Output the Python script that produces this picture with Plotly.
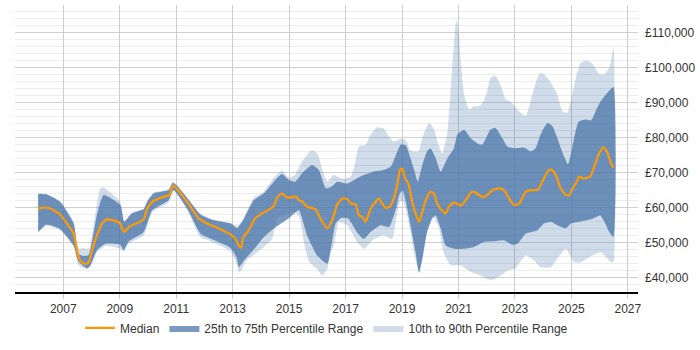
import plotly.graph_objects as go

# ---- data (years as decimals, salary in GBP) ----
median_x = [2006.11, 2006.36, 2006.54, 2006.89, 2007.13, 2007.37, 2007.49, 2007.60, 2007.78, 2007.90,
            2008.02, 2008.19, 2008.37, 2008.55, 2008.73, 2009.00, 2009.08, 2009.17, 2009.32, 2009.85,
            2009.97, 2010.18, 2010.56, 2010.77, 2010.85, 2010.91, 2011.03, 2011.39, 2011.80, 2012.10,
            2012.51, 2012.92, 2013.10, 2013.22, 2013.30, 2013.37, 2013.57, 2013.81, 2014.10, 2014.44,
            2014.58, 2014.72, 2014.81, 2014.93, 2015.26, 2015.34, 2015.46, 2015.64, 2015.94, 2016.11,
            2016.35, 2016.53, 2016.71, 2016.88, 2017.06, 2017.20, 2017.35, 2017.47, 2017.59, 2017.71,
            2017.89, 2018.06, 2018.18, 2018.30, 2018.42, 2018.57, 2018.71, 2018.83, 2018.93, 2019.01,
            2019.09, 2019.24, 2019.36, 2019.48, 2019.60, 2019.72, 2019.80, 2019.89, 2020.01, 2020.13,
            2020.25, 2020.43, 2020.55, 2020.66, 2020.84, 2020.96, 2021.08, 2021.26, 2021.43, 2021.55,
            2021.73, 2021.90, 2022.02, 2022.20, 2022.43, 2022.61, 2022.79, 2022.97, 2023.15, 2023.38,
            2023.56, 2023.80, 2024.03, 2024.21, 2024.33, 2024.45, 2024.62, 2024.80, 2024.92, 2025.04,
            2025.16, 2025.27, 2025.39, 2025.51, 2025.66, 2025.81, 2025.99, 2026.14, 2026.28, 2026.40,
            2026.49]
median_y = [59700, 60000, 59700, 58000, 55400, 52500, 47700, 44800, 43800, 44300,
            47700, 52000, 55400, 56600, 56400, 55600, 54000, 53000, 54400, 56600,
            59700, 61800, 63100, 63600, 65700, 66300, 65300, 61600, 56800, 55400,
            54000, 52300, 51000, 49100, 48400, 51300, 53500, 57000, 58600, 60200,
            62800, 64000, 63700, 62800, 63100, 62100, 61800, 60200, 59500, 56800,
            54000, 56400, 61000, 62600, 62400, 61100, 61000, 57800, 57300, 55900,
            59700, 61600, 62600, 61100, 59900, 60200, 62600, 66400, 70800, 71100,
            68800, 66400, 61600, 58300, 55900, 58700, 61000, 63000, 64500, 64000,
            61100, 59000, 58300, 60200, 61400, 61100, 60500, 62100, 64200, 64500,
            63600, 62900, 63600, 65000, 65500, 65000, 62600, 60700, 61100, 64500,
            65000, 65000, 68400, 70800, 70600, 69300, 65500, 63600, 63400, 65500,
            66900, 68800, 68400, 68400, 68800, 71700, 75600, 77200, 75600, 72700,
            71400]

p75_x = [2006.11, 2006.40, 2006.89, 2007.37, 2007.54, 2007.72, 2007.90, 2008.19, 2008.43, 2009.02,
         2009.16, 2009.43, 2009.85, 2009.97, 2010.20, 2010.73, 2010.88, 2011.03, 2011.40, 2011.86,
         2012.30, 2012.92, 2013.16, 2013.34, 2013.75, 2014.10, 2014.46, 2014.75, 2014.99, 2015.22,
         2015.46, 2015.81, 2016.05, 2016.30, 2016.47, 2016.71, 2017.06, 2017.41, 2017.65, 2018.00,
         2018.36, 2018.60, 2018.83, 2018.95, 2019.13, 2019.30, 2019.42, 2019.56, 2019.72, 2019.89,
         2020.01, 2020.20, 2020.37, 2020.60, 2020.84, 2020.96, 2021.20, 2021.43, 2021.66, 2021.84,
         2022.13, 2022.31, 2022.55, 2022.73, 2022.97, 2023.32, 2023.56, 2023.73, 2023.91, 2024.15,
         2024.33, 2024.50, 2024.74, 2024.88, 2024.98, 2025.16, 2025.27, 2025.51, 2025.70, 2025.86,
         2026.04, 2026.28, 2026.49]
p75_y = [63900, 63800, 61600, 55400, 46700, 46100, 46400, 57800, 63600, 60700,
         55900, 58300, 59500, 61600, 64000, 65000, 67100, 66200, 62600, 58000,
         56400, 55400, 54100, 55900, 62100, 64000, 67400, 69600, 67900, 67400,
         69800, 72200, 70800, 65500, 65800, 67400, 66900, 68400, 69300, 70300,
         70800, 71700, 76000, 78000, 77800, 74100, 71000, 67400, 72200, 76100,
         77000, 74000, 70300, 74000, 77000, 80900, 82300, 79900, 78400, 78000,
         82300, 82800, 79900, 77500, 77000, 77200, 76100, 77000, 80900, 84200,
         83300, 79900, 74600, 72400, 75100, 82300, 84700, 85200, 85000, 87600,
         90500, 92900, 94500]

p25_x = [2006.11, 2006.40, 2006.89, 2007.37, 2007.54, 2007.84, 2007.96, 2008.19, 2008.49, 2009.02,
         2009.14, 2009.32, 2009.85, 2010.15, 2010.73, 2010.91, 2011.39, 2011.86, 2012.10, 2012.92,
         2013.15, 2013.22, 2013.40, 2013.75, 2014.10, 2014.46, 2015.05, 2015.34, 2015.64, 2015.99,
         2016.35, 2016.65, 2016.85, 2017.10, 2017.40, 2017.64, 2017.89, 2018.24, 2018.54, 2018.80,
         2018.92, 2019.02, 2019.14, 2019.30, 2019.48, 2019.60, 2019.72, 2019.89, 2020.07, 2020.19,
         2020.37, 2020.55, 2020.84, 2021.20, 2021.55, 2021.90, 2022.26, 2022.61, 2022.90, 2023.09,
         2023.38, 2023.80, 2024.03, 2024.27, 2024.50, 2024.80, 2024.98, 2025.27, 2025.75, 2026.02,
         2026.17, 2026.34, 2026.49]
p25_y = [53000, 55100, 53800, 49100, 44500, 42600, 43400, 47700, 49600, 49300,
         47700, 50300, 53000, 59200, 62100, 65000, 59700, 52500, 51500, 48500,
         45500, 42900, 44800, 48000, 51500, 54000, 57300, 59200, 52000, 46300,
         43900, 55400, 57000, 56800, 53000, 51000, 53000, 54900, 54400, 60000,
         64000, 64800, 61600, 54900, 47200, 41400, 45300, 53000, 56800, 57800,
         54000, 49100, 48200, 48200, 48700, 50100, 50300, 50600, 49300, 49600,
         52500, 53500, 55400, 55900, 54900, 54000, 55400, 55900, 56800, 57700,
         55900, 53000, 51500]

p90_x = [2006.11, 2006.40, 2006.89, 2007.37, 2007.54, 2007.72, 2007.90, 2008.31, 2008.43, 2009.02,
         2009.16, 2009.43, 2009.85, 2009.97, 2010.20, 2010.73, 2010.88, 2011.03, 2011.40, 2011.86,
         2012.30, 2012.92, 2013.16, 2013.34, 2013.75, 2014.10, 2014.46, 2014.75, 2014.99, 2015.22,
         2015.46, 2015.81, 2016.00, 2016.17, 2016.35, 2016.59, 2016.88, 2017.18, 2017.35, 2017.47,
         2017.71, 2017.89, 2018.12, 2018.36, 2018.53, 2018.71, 2018.95, 2019.13, 2019.30, 2019.58,
         2019.76, 2019.95, 2020.11, 2020.29, 2020.42, 2020.60, 2020.72, 2020.84, 2020.92, 2021.00,
         2021.08, 2021.20, 2021.38, 2021.55, 2021.73, 2021.90, 2022.02, 2022.14, 2022.32, 2022.50,
         2022.67, 2022.85, 2023.15, 2023.38, 2023.56, 2023.80, 2023.91, 2024.09, 2024.27, 2024.50,
         2024.68, 2024.86, 2024.98, 2025.16, 2025.34, 2025.58, 2025.75, 2025.99, 2026.17, 2026.35,
         2026.47, 2026.50]
p90_y = [64000, 63900, 61800, 55800, 48200, 48400, 48000, 65500, 65700, 61600,
         56200, 58600, 59700, 61800, 64200, 65200, 67400, 66400, 62800, 58200,
         56600, 55600, 54800, 56200, 62800, 64500, 68500, 70500, 68500, 69500,
         73200, 76500, 75500, 71200, 67400, 69300, 68200, 68800, 73200, 77500,
         78000, 80900, 83000, 82600, 80400, 78900, 79700, 79400, 76300, 76100,
         80900, 84200, 82800, 78000, 75500, 80900, 93400, 106800, 113600, 111100,
         102000, 92400, 88100, 89000, 89000, 90500, 93400, 97200, 97700, 94800,
         91000, 90300, 87600, 86200, 90500, 97200, 98500, 97700, 95800, 92400,
         87600, 87100, 90500, 97200, 101500, 102000, 101100, 98200, 98200, 100100,
         104900, 105800]

p10_x = [2006.11, 2006.40, 2006.89, 2007.37, 2007.54, 2007.84, 2007.96, 2008.19, 2008.49, 2009.02,
         2009.14, 2009.32, 2009.85, 2010.15, 2010.73, 2010.91, 2011.39, 2011.86, 2012.10, 2012.92,
         2013.15, 2013.25, 2013.50, 2013.75, 2014.40, 2014.58, 2014.88, 2015.17, 2015.37, 2015.54,
         2015.72, 2016.00, 2016.17, 2016.35, 2016.47, 2016.59, 2016.77, 2017.06, 2017.41, 2017.65,
         2018.00, 2018.36, 2018.65, 2018.80, 2018.92, 2019.02, 2019.13, 2019.30, 2019.42, 2019.62,
         2019.85, 2020.08, 2020.30, 2020.48, 2020.72, 2021.08, 2021.43, 2021.78, 2022.02, 2022.20,
         2022.49, 2022.73, 2023.03, 2023.38, 2023.68, 2023.91, 2024.27, 2024.50, 2024.80, 2025.10,
         2025.34, 2025.75, 2026.05, 2026.28, 2026.40, 2026.49]
p10_y = [52700, 54800, 53500, 48700, 43400, 42400, 43200, 47200, 49000, 48200,
         47400, 49700, 52000, 58700, 61400, 64800, 59200, 51500, 50800, 47500,
         43600, 41400, 45000, 46400, 51000, 56800, 57800, 58800, 57300, 49500,
         44300, 42400, 40500, 42400, 47200, 49100, 55900, 54900, 50100, 48200,
         51000, 52000, 51000, 57000, 61600, 62000, 59700, 53000, 47200, 41200,
         52000, 57600, 54500, 47000, 43600, 43400, 41600, 40500, 39500, 39200,
         40500, 41900, 42700, 46300, 44800, 42900, 42900, 45300, 48200, 44300,
         44300, 46300, 47200, 45300, 44300, 44500]

year_ticks = [2007, 2009, 2011, 2013, 2015, 2017, 2019, 2021, 2023, 2025, 2027]
salary_ticks = [40000, 50000, 60000, 70000, 80000, 90000, 100000, 110000]

FONT = "Liberation Sans, Arial, sans-serif"

fig = go.Figure()

# 10th-90th band
fig.add_trace(go.Scatter(
    x=p90_x + p10_x[::-1], y=p90_y + p10_y[::-1],
    fill="toself", fillcolor="rgba(69,114,167,0.25)",
    line=dict(width=0, shape="spline", smoothing=0.5),
    mode="lines", name="10th to 90th Percentile Range",
    hoverinfo="skip", legendrank=3))

# 25th-75th band
fig.add_trace(go.Scatter(
    x=p75_x + p25_x[::-1], y=p75_y + p25_y[::-1],
    fill="toself", fillcolor="rgba(69,114,167,0.72)",
    line=dict(width=0, shape="spline", smoothing=0.5),
    mode="lines", name="25th to 75th Percentile Range",
    hoverinfo="skip", legendrank=2))

# Median
fig.add_trace(go.Scatter(
    x=median_x, y=median_y, mode="lines", name="Median",
    line=dict(color="#FF9900", width=2.2, shape="spline", smoothing=0.5),
    legendrank=1))

fig.update_layout(
    width=700, height=350,
    margin=dict(l=15, r=62, t=5, b=58),
    paper_bgcolor="white", plot_bgcolor="white",
    font=dict(family=FONT, size=12, color="#333"),
    showlegend=True,
    legend=dict(orientation="h", x=0.5, xanchor="center", y=-0.125, yanchor="middle",
                font=dict(family=FONT, size=12, color="#333"),
                itemwidth=30, traceorder="normal"),
    xaxis=dict(range=[2005.29, 2027.36], tickmode="array", tickvals=year_ticks,
               ticktext=[str(t) for t in year_ticks],
               showgrid=True, gridcolor="#cccccc", gridwidth=1,
               showline=True, linecolor="#000", linewidth=1.5,
               ticks="outside", ticklen=5, tickcolor="#cccccc",
               tickfont=dict(size=12, color="#333"), zeroline=False, fixedrange=True),
    yaxis=dict(range=[35800, 118000], side="right", tickmode="array", tickvals=salary_ticks,
               ticktext=["£{:,}".format(v) for v in salary_ticks],
               showgrid=True, gridcolor="#d0d0d0", gridwidth=1,
               minor=dict(dtick=2000, tick0=0, showgrid=True, gridcolor="#ececec", gridwidth=1),
               showline=False, ticks="", ticklabelstandoff=6,
               tickfont=dict(size=12, color="#333"), zeroline=False, fixedrange=True),
)

fig.write_html("out.html")
